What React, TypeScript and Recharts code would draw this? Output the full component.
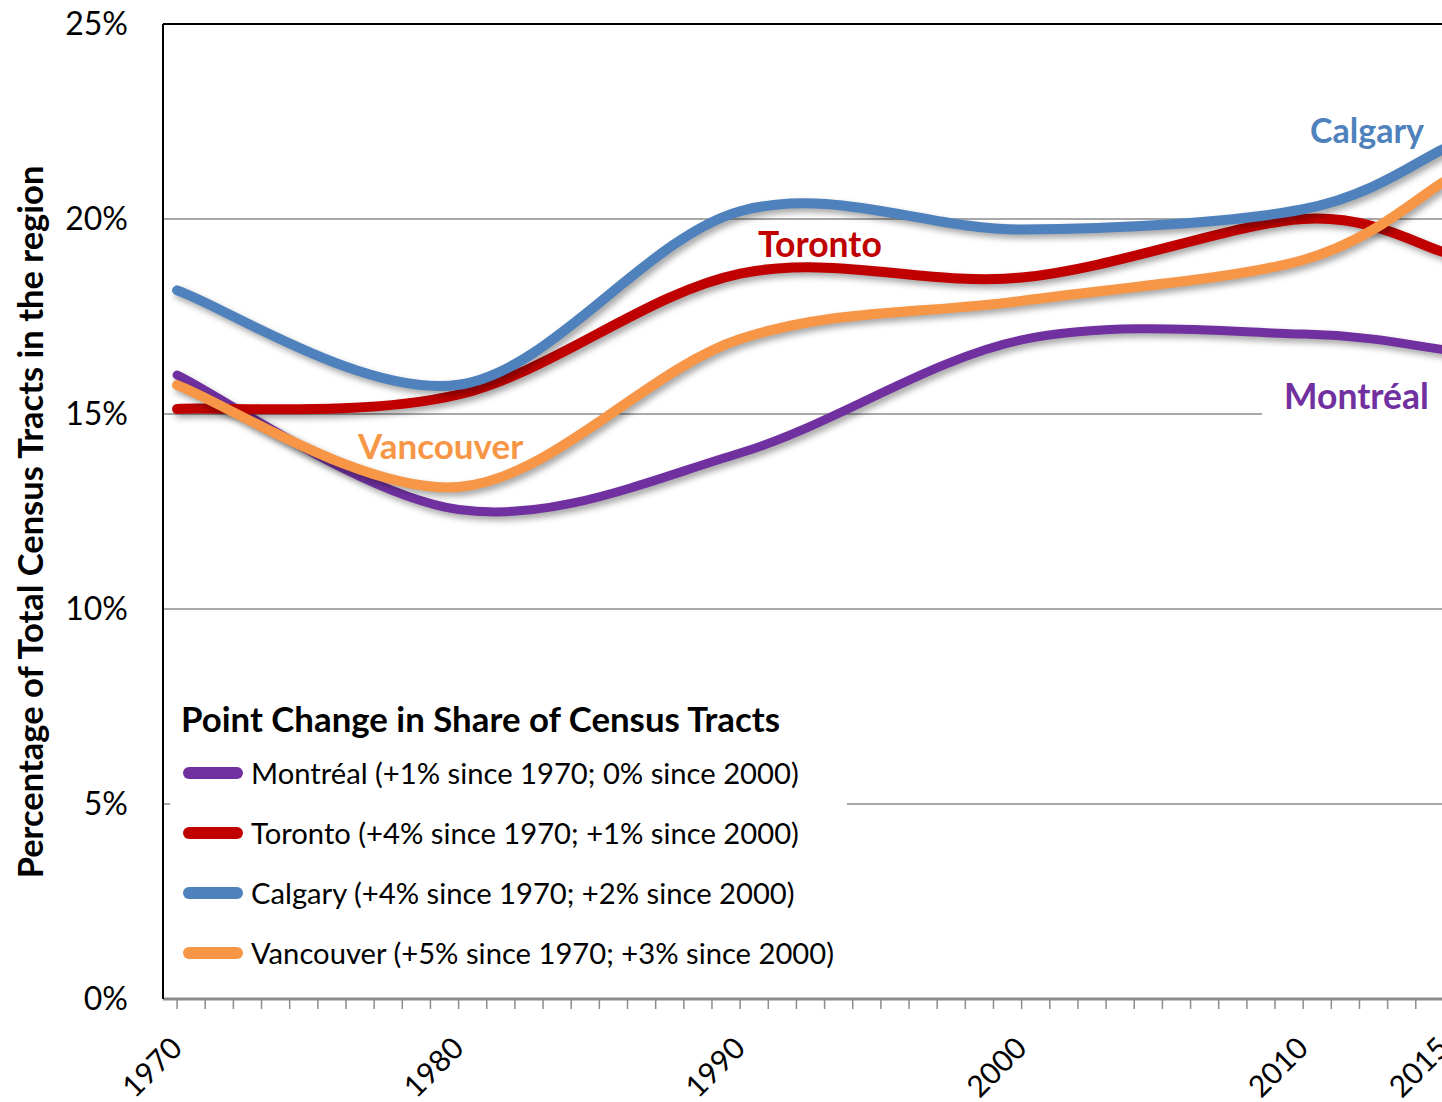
import { LineChart, Line, XAxis, YAxis, CartesianGrid, ReferenceLine, Legend } from "recharts";

// census years shown in the chart
const years = [1970, 1980, 1990, 2000, 2010, 2015];

// share of census tracts (%) per region
const montreal = [16.0, 12.55, 14.0, 16.9, 17.05, 16.65];
const toronto = [15.13, 15.5, 18.6, 18.5, 20.0, 19.15];
const calgary = [18.17, 15.75, 20.2, 19.73, 20.25, 21.8];
const vancouver = [15.74, 13.13, 16.92, 17.9, 18.95, 20.95];

const labelYears = [1970, 1980, 1990, 2000, 2010, 2015];
const yTicks = [0, 5, 10, 15, 20, 25];
const minorTicks = Array.from({ length: 46 }, (_, i) => 1970 + i);

const series = [
  { key: "montreal", name: "Montréal", note: "(+1% since 1970; 0% since 2000)", color: "#7030A0" },
  { key: "toronto", name: "Toronto", note: "(+4% since 1970; +1% since 2000)", color: "#C00000" },
  { key: "calgary", name: "Calgary", note: "(+4% since 1970; +2% since 2000)", color: "#4F81BD" },
  { key: "vancouver", name: "Vancouver", note: "(+5% since 1970; +3% since 2000)", color: "#F79646" },
];

const data = years.map((year, i) => ({
  year,
  montreal: montreal[i],
  toronto: toronto[i],
  calgary: calgary[i],
  vancouver: vancouver[i],
}));

// Excel-like smoothed line (Catmull-Rom through the points)
function excelSpline(context: any) {
  let pts: number[][] = [];
  return {
    areaStart() {},
    areaEnd() {},
    lineStart() {
      pts = [];
    },
    point(x: number, y: number) {
      pts.push([+x, +y]);
    },
    lineEnd() {
      const n = pts.length;
      if (!n) return;
      context.moveTo(pts[0][0], pts[0][1]);
      for (let i = 0; i < n - 1; i++) {
        const p0 = pts[Math.max(i - 1, 0)];
        const p1 = pts[i];
        const p2 = pts[i + 1];
        const p3 = pts[Math.min(i + 2, n - 1)];
        context.bezierCurveTo(
          p1[0] + (p2[0] - p0[0]) / 6,
          p1[1] + (p2[1] - p0[1]) / 6,
          p2[0] - (p3[0] - p1[0]) / 6,
          p2[1] - (p3[1] - p1[1]) / 6,
          p2[0],
          p2[1]
        );
      }
    },
  };
}

const YearTick = ({ x, y, payload }: any) => {
  if (!labelYears.includes(payload.value)) return null;
  const ax = x + 7;
  const ay = y + 39;
  return (
    <text x={ax} y={ay} transform={`rotate(-45 ${ax} ${ay})`} textAnchor="end" fontSize={30} fill="#000">
      {payload.value}
    </text>
  );
};

const LegendBox = () => (
  <div style={{ position: "relative", width: 677, height: 295, background: "#fff", fontFamily: "Lato, sans-serif" }}>
    <div style={{ position: "absolute", left: 11, top: 30 - 34.8 * 0.527, fontSize: 34.8, lineHeight: 1, fontWeight: 700, whiteSpace: "nowrap" }}>
      Point Change in Share of Census Tracts
    </div>
    {series.map((s, i) => (
      <div key={s.key}>
        <div
          style={{
            position: "absolute",
            left: 13,
            top: 83 + i * 60 - 6,
            width: 60,
            height: 12,
            borderRadius: 6,
            background: s.color,
          }}
        />
        <div style={{ position: "absolute", left: 81, top: 83 + i * 60 - 29.2 * 0.527, fontSize: 29.2, lineHeight: 1, whiteSpace: "nowrap" }}>
          {s.name} {s.note}
        </div>
      </div>
    ))}
  </div>
);

const lineLabels = [
  { text: "Calgary", color: "#4F81BD", left: 1310, cy: 131, size: 34 },
  { text: "Toronto", color: "#C00000", left: 758, cy: 245, size: 35.5 },
  { text: "Vancouver", color: "#F79646", left: 358, cy: 446, size: 35 },
  { text: "Montréal", color: "#7030A0", left: 1284, cy: 397, size: 35.5 },
];

export default function App() {
  return (
    <div
      style={{
        position: "absolute",
        left: 0,
        top: 0,
        width: 1442,
        height: 1102,
        overflow: "hidden",
        background: "#fff",
        fontFamily: "Lato, sans-serif",
      }}
    >
      <style>{`.recharts-line-curve { filter: drop-shadow(3px 4px 3px rgba(0,0,0,0.35)); }`}</style>
      <LineChart width={1470} height={1102} data={data} margin={{ top: 24, right: 12, left: 0, bottom: 0 }}>
        <CartesianGrid vertical={false} stroke="#8c8c8c" strokeWidth={1.5} />
        <XAxis
          dataKey="year"
          type="number"
          domain={[1969.5, 2015.5]}
          ticks={minorTicks}
          interval={0}
          height={103}
          tick={<YearTick />}
          tickSize={10}
          axisLine={{ stroke: "#8c8c8c", strokeWidth: 3 }}
          tickLine={{ stroke: "#8c8c8c", strokeWidth: 1.5 }}
        />
        <YAxis
          domain={[0, 25]}
          ticks={yTicks}
          width={163}
          tickFormatter={(v) => `${v}%`}
          tick={{ fill: "#000", fontSize: 32 }}
          tickLine={false}
          tickSize={8}
          tickMargin={27}
          axisLine={{ stroke: "#000", strokeWidth: 2 }}
        />
        <ReferenceLine y={25} stroke="#000" strokeWidth={2} />
        {series.map((s) => (
          <Line
            key={s.key}
            dataKey={s.key}
            name={s.name}
            type={excelSpline as any}
            stroke={s.color}
            strokeWidth={s.key === "montreal" ? 9 : 10}
            strokeLinecap="round"
            dot={false}
            activeDot={false}
            isAnimationActive={false}
          />
        ))}
        <Legend
          layout="horizontal"
          verticalAlign="middle"
          align="center"
          content={<LegendBox />}
          wrapperStyle={{ left: 170, top: 690, width: 677, height: 295 }}
        />
      </LineChart>

      <div style={{ position: "absolute", left: 1262, top: 378, width: 200, height: 40, background: "#fff" }} />
      {lineLabels.map((l) => (
        <div
          key={l.text}
          style={{
            position: "absolute",
            left: l.left,
            top: l.cy - l.size * 0.527,
            fontSize: l.size,
            lineHeight: 1,
            fontWeight: 700,
            color: l.color,
            whiteSpace: "nowrap",
          }}
        >
          {l.text}
        </div>
      ))}

      <div
        style={{
          position: "absolute",
          left: 30,
          top: 522,
          transform: "translate(-50%, -50%) rotate(-90deg)",
          fontSize: 34.5,
          fontWeight: 700,
          whiteSpace: "nowrap",
          lineHeight: 1,
        }}
      >
        Percentage of Total Census Tracts in the region
      </div>
    </div>
  );
}
